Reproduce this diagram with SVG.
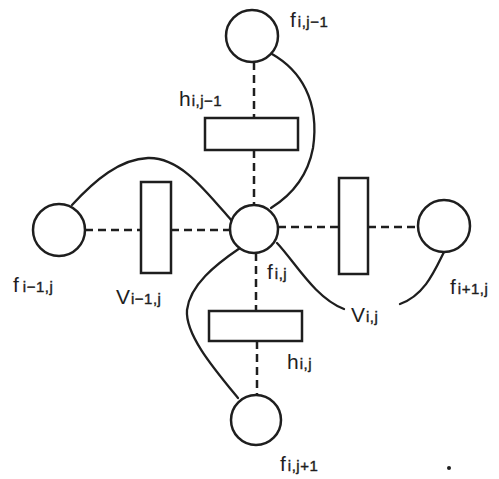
<svg xmlns="http://www.w3.org/2000/svg" width="499" height="479" viewBox="0 0 499 479">
  <style>
    .node { fill: #fff; stroke: #1e1e1e; stroke-width: 2.5; }
    .link { fill: none; stroke: #1e1e1e; stroke-width: 2.3; stroke-linecap: round; }
    .dash { fill: none; stroke: #1e1e1e; stroke-width: 2.5; stroke-dasharray: 8 5; }
    .lbl { font-family: "Liberation Sans", Arial, sans-serif; fill: #1e1e1e; }
    .big { font-size: 21px; }
    .sub { font-size: 15px; letter-spacing: 0.5px; stroke: #1e1e1e; stroke-width: 0.4; }
  </style>
  <rect width="499" height="479" fill="#fff"/>

  <!-- connectors: dashed lattice links and solid curved couplings -->
  <g id="connectors">
    <path class="dash" d="M254 62 V118 M254 150 V205"/>
    <path class="dash" d="M256 253 V311 M257 341 V395"/>
    <path class="dash" d="M85 230 H141 M171 230 H230"/>
    <path class="dash" d="M278 227 H339 M368 227 H418"/>
    <path class="link" d="M272 54 C300 70 320 100 313 148 C307 180 287 198 271 208"/>
    <path class="link" d="M72 205 C95 180 120 159 148 158 C180 157 205 190 231 220"/>
    <path class="link" d="M240 248 C215 265 190 285 187 310 C185 335 215 370 238 398"/>
    <path class="link" d="M277 243 C295 262 315 298 344 309"/>
    <path class="link" d="M444 252 C435 270 425 295 400 304"/>
  </g>

  <!-- pixel nodes -->
  <g id="f_i_jm1"><circle class="node" cx="252" cy="36" r="26"/></g>
  <g id="f_im1_j"><circle class="node" cx="59" cy="230" r="26"/></g>
  <g id="f_i_j"><circle class="node" cx="254" cy="229" r="24"/></g>
  <g id="f_ip1_j"><circle class="node" cx="444" cy="226" r="26"/></g>
  <g id="f_i_jp1"><circle class="node" cx="256" cy="420" r="25"/></g>

  <!-- line-process nodes -->
  <g id="h_i_jm1"><rect class="node" x="205" y="118" width="93" height="32"/></g>
  <g id="v_im1_j"><rect class="node" x="141" y="182" width="30" height="91"/></g>
  <g id="v_i_j"><rect class="node" x="339" y="178" width="29" height="96"/></g>
  <g id="h_i_j"><rect class="node" x="209" y="311" width="93" height="30"/></g>

  <!-- labels -->
  <text class="lbl" x="290" y="27"><tspan class="big">f</tspan><tspan class="sub" dx="2">i,j−1</tspan></text>
  <text class="lbl" x="179" y="106"><tspan class="big">h</tspan><tspan class="sub" dx="1">i,j−1</tspan></text>
  <text class="lbl" x="13" y="292"><tspan class="big">f</tspan><tspan class="sub" dx="4">i−1,j</tspan></text>
  <text class="lbl" x="116" y="304"><tspan class="big">V</tspan><tspan class="sub" dx="1">i−1,j</tspan></text>
  <text class="lbl" x="267" y="279"><tspan class="big">f</tspan><tspan class="sub" dx="2">i,j</tspan></text>
  <text class="lbl" x="351" y="322"><tspan class="big">V</tspan><tspan class="sub" dx="1">i,j</tspan></text>
  <text class="lbl" x="450" y="294"><tspan class="big">f</tspan><tspan class="sub" dx="2">i+1,j</tspan></text>
  <text class="lbl" x="287" y="369"><tspan class="big">h</tspan><tspan class="sub" dx="1">i,j</tspan></text>
  <text class="lbl" x="280" y="471"><tspan class="big">f</tspan><tspan class="sub" dx="2">i,j+1</tspan></text>

  <circle cx="449" cy="468" r="2" fill="#1e1e1e"/>
</svg>
